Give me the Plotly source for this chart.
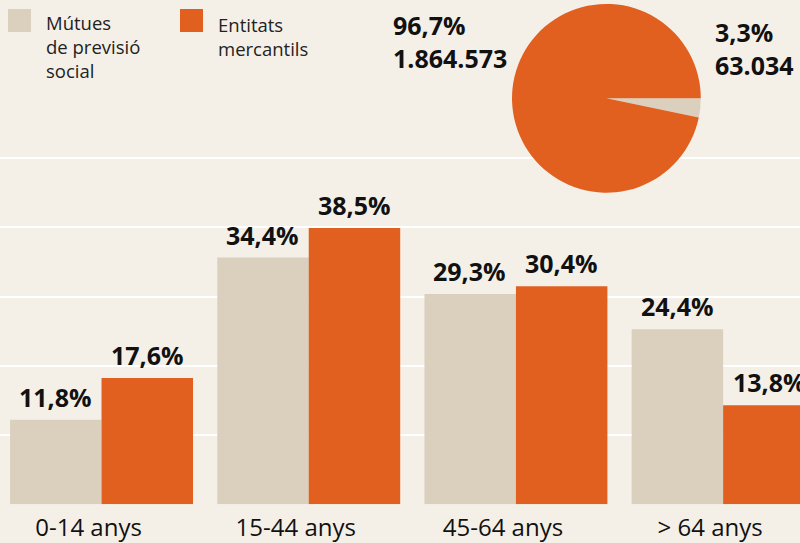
import plotly.graph_objects as go

# data
age_groups = ['0-14 anys', '15-44 anys', '45-64 anys', '> 64 anys']
mutues_pct = [11.8, 34.4, 29.3, 24.4]
mercantils_pct = [17.6, 38.5, 30.4, 13.8]

pie_labels = ['Mútues de previsió social', 'Entitats mercantils']
pie_values = [63034, 1864573]
pie_pct_text = ['3,3%', '96,7%']
pie_count_text = ['63.034', '1.864.573']

BG = '#f4f0e8'
BEIGE = '#dbd0be'
ORANGE = '#e16020'
FONT = 'Open Sans'
BOLD_SIZE = 25


def fmt_pct(v):
    return ('%.1f%%' % v).replace('.', ',')


fig = go.Figure()

fig.add_trace(go.Bar(x=age_groups, y=mutues_pct, name='Mútues de previsió social',
                     marker=dict(color=BEIGE, line=dict(width=0)), hoverinfo='skip'))
fig.add_trace(go.Bar(x=age_groups, y=mercantils_pct, name='Entitats mercantils',
                     marker=dict(color=ORANGE, line=dict(width=0)), hoverinfo='skip'))

# value labels above each bar
annotations = []
for vals, shift in ((mutues_pct, -46), (mercantils_pct, 46)):
    for cat, v in zip(age_groups, vals):
        annotations.append(dict(x=cat, y=v, xref='x', yref='y', text='<b>' + fmt_pct(v) + '</b>',
                                showarrow=False, yanchor='bottom', xshift=shift, yshift=4,
                                font=dict(family=FONT, size=BOLD_SIZE, color='#111111')))

# pie of totals
fig.add_trace(go.Pie(labels=pie_labels, values=pie_values, sort=False,
                     direction='clockwise', rotation=90,
                     marker=dict(colors=[BEIGE, ORANGE], line=dict(width=0)),
                     textinfo='none', hoverinfo='skip', showlegend=False,
                     domain=dict(x=[0.64, 0.876], y=[0.645, 0.993])))

annotations.append(dict(x=391 / 800, y=1 - 6 / 543, xref='paper', yref='paper',
                        xanchor='left', yanchor='top', align='left', showarrow=False,
                        text='<b>' + pie_pct_text[1] + '<br>' + pie_count_text[1] + '</b>',
                        font=dict(family=FONT, size=BOLD_SIZE, color='#111111')))
annotations.append(dict(x=713 / 800, y=1 - 13 / 543, xref='paper', yref='paper',
                        xanchor='left', yanchor='top', align='left', showarrow=False,
                        text='<b>' + pie_pct_text[0] + '<br>' + pie_count_text[0] + '</b>',
                        font=dict(family=FONT, size=BOLD_SIZE, color='#111111')))

# hand made legend
shapes = [
    dict(type='rect', xref='paper', yref='paper', x0=8 / 800, x1=31 / 800,
         y0=1 - 32 / 543, y1=1 - 9 / 543, fillcolor=BEIGE, line=dict(width=0)),
    dict(type='rect', xref='paper', yref='paper', x0=180 / 800, x1=203 / 800,
         y0=1 - 32 / 543, y1=1 - 9 / 543, fillcolor=ORANGE, line=dict(width=0)),
]
annotations.append(dict(x=44 / 800, y=1 - 8 / 543, xref='paper', yref='paper',
                        xanchor='left', yanchor='top', align='left', showarrow=False,
                        text='Mútues<br>de previsió<br>social',
                        font=dict(family=FONT, size=18.5, color='#222222')))
annotations.append(dict(x=216 / 800, y=1 - 10 / 543, xref='paper', yref='paper',
                        xanchor='left', yanchor='top', align='left', showarrow=False,
                        text='Entitats<br>mercantils',
                        font=dict(family=FONT, size=18.5, color='#222222')))

grid_step = 9.65
fig.update_layout(
    width=800, height=543,
    margin=dict(l=0, r=0, t=0, b=0),
    paper_bgcolor=BG, plot_bgcolor=BG,
    barmode='group', bargap=0.117, bargroupgap=0,
    showlegend=False,
    shapes=shapes,
    annotations=annotations,
    xaxis=dict(range=[-0.49, 3.371], showgrid=False, zeroline=False, showline=False,
               ticks='', ticklabelstandoff=7, ticklabelshift=-13, automargin=False,
               tickfont=dict(family=FONT, size=24, color='#111111')),
    yaxis=dict(domain=[38.7 / 543, 1], range=[0, 70.3], showticklabels=False,
               tickvals=[grid_step * i for i in range(6)], automargin=False,
               showgrid=True, gridcolor='#ffffff', gridwidth=1.5,
               zeroline=False, showline=False),
)

fig.write_html('out.html', config={'displayModeBar': False},
               post_script="document.body.style.margin='0';")
